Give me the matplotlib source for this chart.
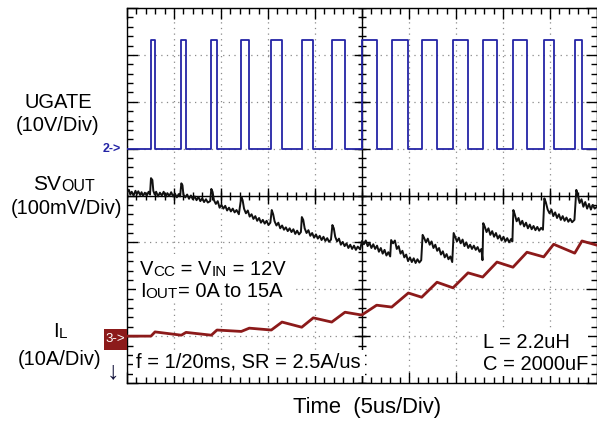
import matplotlib.pyplot as plt
from matplotlib.patches import Rectangle
import numpy as np

plt.rcParams['font.family'] = ['Liberation Sans', 'DejaVu Sans']

# scope screen: time in us (5us/div, 10 div), traces in divisions (8 div)
ugate_rise = [2.55, 5.78, 8.97, 12.16, 15.35, 18.59, 21.78, 24.97, 28.16, 31.35,
              34.68, 37.84, 41.06, 44.33, 47.63]
ugate_fall = [2.98, 6.28, 9.57, 13.01, 16.49, 19.82, 23.19, 26.56, 29.93, 32.98,
              36.28, 39.36, 42.55, 45.39, 48.40]
ugate_low = 5.0
ugate_high = 7.31

sv_t = [0.0, 0.2, 0.35, 0.5, 0.7, 0.9, 1.05, 1.2, 1.4, 1.55, 1.7, 1.9, 2.1, 2.3, 2.45,
        2.55, 2.7, 2.8, 2.95, 3.1, 3.3, 3.5, 3.7, 3.9, 4.1, 4.3, 4.5, 4.7, 4.9, 5.1, 5.3, 5.5, 5.65,
        5.78, 5.9, 6.0, 6.2, 6.4, 6.6, 6.8, 7.0, 7.2, 7.4, 7.6, 7.8, 8.0, 8.2, 8.4, 8.6, 8.85,
        8.97, 9.1, 9.25, 9.45, 9.65, 9.85, 10.05, 10.25, 10.45, 10.65, 10.85, 11.05, 11.25, 11.45, 11.65, 11.9,
        12.16, 12.3, 12.45, 12.65, 12.85, 13.05, 13.25, 13.45, 13.65, 13.85, 14.05, 14.25, 14.45, 14.65, 14.85, 15.05, 15.25,
        15.4, 15.55, 15.7, 15.9, 16.1, 16.3, 16.5, 16.7, 16.9, 17.1, 17.3, 17.5, 17.7, 17.9, 18.1, 18.3, 18.5,
        18.6, 18.75, 18.9, 19.1, 19.3, 19.5, 19.7, 19.9, 20.1, 20.3, 20.5, 20.7, 20.9, 21.1, 21.3, 21.5, 21.7,
        21.85, 22.0, 22.15, 22.35, 22.55, 22.75, 22.95, 23.15, 23.35, 23.55, 23.75, 23.95, 24.15, 24.35, 24.55, 24.8,
        25.0, 25.2, 25.4, 25.6, 25.8, 26.0, 26.2, 26.4, 26.6, 26.8, 27.0, 27.2, 27.4, 27.6, 27.8, 28.0,
        28.1, 28.3, 28.5, 28.7, 28.9, 29.1, 29.3, 29.5, 29.7, 29.9, 30.1, 30.3, 30.5, 30.7, 30.9, 31.1, 31.3,
        31.45, 31.6, 31.8, 32.0, 32.2, 32.4, 32.6, 32.8, 33.0, 33.2, 33.4, 33.6, 33.8, 34.0, 34.2, 34.4, 34.6,
        34.75, 34.9, 35.1, 35.3, 35.5, 35.7, 35.9, 36.1, 36.3, 36.5, 36.7, 36.9, 37.1, 37.3, 37.5, 37.7, 37.82,
        37.9, 38.05, 38.25, 38.45, 38.65, 38.85, 39.05, 39.25, 39.45, 39.65, 39.85, 40.05, 40.25, 40.45, 40.65, 40.85, 41.0,
        41.1, 41.25, 41.45, 41.65, 41.85, 42.05, 42.25, 42.45, 42.65, 42.85, 43.05, 43.25, 43.45, 43.65, 43.85, 44.05, 44.25,
        44.4, 44.55, 44.75, 44.95, 45.15, 45.35, 45.55, 45.75, 45.95, 46.15, 46.35, 46.55, 46.75, 46.95, 47.15, 47.35, 47.6,
        47.8, 47.95, 48.15, 48.35, 48.55, 48.75, 48.95, 49.15, 49.35, 49.55, 49.75, 50.0]
sv_v = [4.07, 4.12, 4.02, 4.08, 4.00, 4.10, 4.03, 4.09, 4.01, 4.07, 3.99, 4.06, 4.00, 4.08, 4.02,
        4.37, 4.33, 4.10, 4.02, 4.08, 3.98, 4.06, 4.00, 4.08, 3.97, 4.05, 3.99, 4.07, 3.98, 4.04, 3.96, 4.03, 3.98,
        4.26, 4.22, 4.02, 3.96, 4.02, 3.93, 4.00, 3.92, 3.98, 3.90, 3.97, 3.88, 3.94, 3.86, 3.92, 3.85, 3.88,
        4.14, 4.08, 3.90, 3.82, 3.88, 3.74, 3.80, 3.72, 3.78, 3.68, 3.74, 3.66, 3.72, 3.64, 3.69, 3.60,
        3.97, 3.90, 3.72, 3.62, 3.68, 3.55, 3.60, 3.50, 3.56, 3.46, 3.52, 3.42, 3.48, 3.40, 3.46, 3.37, 3.42,
        3.69, 3.60, 3.45, 3.36, 3.42, 3.30, 3.36, 3.27, 3.32, 3.24, 3.30, 3.22, 3.28, 3.18, 3.25, 3.17, 3.22,
        3.54, 3.48, 3.30, 3.20, 3.26, 3.14, 3.20, 3.10, 3.17, 3.08, 3.14, 3.05, 3.12, 3.03, 3.09, 3.01, 3.06,
        3.37, 3.30, 3.12, 3.02, 3.08, 2.95, 3.01, 2.92, 2.98, 2.88, 2.95, 2.86, 2.93, 2.84, 2.91, 2.85,
        3.03, 2.96, 3.04, 2.92, 2.99, 2.88, 2.96, 2.86, 2.93, 2.80, 2.88, 2.76, 2.84, 2.72, 2.79, 2.70,
        3.05, 2.98, 3.04, 2.86, 2.92, 2.76, 2.82, 2.68, 2.74, 2.60, 2.68, 2.58, 2.66, 2.56, 2.64, 2.57, 2.62,
        3.16, 3.10, 3.00, 3.08, 2.95, 3.02, 2.88, 2.95, 2.82, 2.88, 2.74, 2.81, 2.68, 2.75, 2.64, 2.70, 2.58,
        3.20, 3.12, 3.02, 3.10, 2.98, 3.06, 2.92, 3.00, 2.88, 2.95, 2.86, 2.93, 2.84, 2.90, 2.80, 2.86, 2.62,
        3.41, 3.34, 3.22, 3.30, 3.16, 3.24, 3.12, 3.20, 3.08, 3.15, 3.04, 3.12, 3.02, 3.09, 3.00, 3.07, 3.02,
        3.69, 3.60, 3.45, 3.52, 3.38, 3.46, 3.34, 3.42, 3.30, 3.38, 3.28, 3.35, 3.26, 3.33, 3.25, 3.31, 3.27,
        3.94, 3.86, 3.70, 3.62, 3.70, 3.56, 3.64, 3.52, 3.60, 3.48, 3.56, 3.46, 3.53, 3.44, 3.50, 3.43, 3.48,
        4.12, 4.02, 3.84, 3.92, 3.76, 3.86, 3.72, 3.82, 3.70, 3.80, 3.72, 3.76]

il_start = 1.00
il_valley = [1.00, 1.02, 1.02, 1.10, 1.13, 1.19, 1.30, 1.45, 1.62, 1.83,
             2.03, 2.26, 2.47, 2.69, 2.77]
il_peak = [1.09, 1.08, 1.13, 1.17, 1.30, 1.39, 1.51, 1.66, 1.92, 2.15,
           2.35, 2.58, 2.79, 2.96, 3.03]
il_end = 2.94

BLUE = '#2424a6'
RED = '#8c1a1a'

fig = plt.figure(figsize=(5.97, 4.26), dpi=100)
ax = fig.add_axes([127 / 597, 43 / 426, 470 / 597, 375 / 426])
ax.set_xlim(0, 50)
ax.set_ylim(0, 8)

# graticule
ax.set_xticks(np.arange(0, 51, 5))
ax.set_yticks(np.arange(0, 9, 1))
ax.set_xticks(np.arange(0, 50.01, 1), minor=True)
ax.set_yticks(np.arange(0, 8.01, 0.2), minor=True)
ax.tick_params(which='both', direction='in', top=True, right=True,
               labelbottom=False, labelleft=False, width=1, color='black')
ax.tick_params(which='major', length=8)
ax.tick_params(which='minor', length=4)
ax.grid(True, which='major', color='#8a8a8a', linestyle=(0, (1, 3.5)), lw=0.9)
for s in ax.spines.values():
    s.set_linewidth(1.0)

ax.axhline(4, color='black', lw=1.0, zorder=2)
ax.axvline(25, color='black', lw=1.0, zorder=2)
ax.plot(np.arange(0, 50.01, 1), np.full(51, 4.0), ls='', marker='|', ms=6, mew=1, color='black', zorder=2)
ax.plot(np.arange(0, 50.01, 5), np.full(11, 4.0), ls='', marker='|', ms=11, mew=1, color='black', zorder=2)
ax.plot(np.full(41, 25.0), np.arange(0, 8.01, 0.2), ls='', marker='_', ms=6, mew=1, color='black', zorder=2)
ax.plot(np.full(9, 25.0), np.arange(0, 8.01, 1), ls='', marker='_', ms=11, mew=1, color='black', zorder=2)

# UGATE square wave
ug_t = [0.0]
ug_v = [ugate_low]
for r, f in zip(ugate_rise, ugate_fall):
    ug_t += [r, r, f, f]
    ug_v += [ugate_low, ugate_high, ugate_high, ugate_low]
ug_t.append(50.0)
ug_v.append(ugate_low)
ax.plot(ug_t, ug_v, color=BLUE, lw=1.3, zorder=3)

# SVOUT
ax.plot(sv_t, sv_v, color='#111111', lw=1.4, zorder=3)

# IL
il_t = [0.0]
il_v = [il_start]
for r, f, lo, hi in zip(ugate_rise, ugate_fall, il_valley, il_peak):
    il_t += [r, f]
    il_v += [lo, hi]
il_t.append(50.0)
il_v.append(il_end)
ax.plot(il_t, il_v, color=RED, lw=2.0, zorder=3)


def px(x, y):
    return x / 597, 1 - y / 426


def rich(x, y, parts, color='black'):
    t = ax.text(*px(x, y), parts[0][0], fontsize=parts[0][1], color=color,
                transform=fig.transFigure, va='baseline', ha='left', zorder=11)
    prev = t
    for s, size in parts[1:]:
        prev = ax.annotate(s, xy=(1, 0), xycoords=prev, fontsize=size, color=color,
                           va='bottom', ha='left', zorder=11, annotation_clip=False)
    return t


# white backgrounds behind the annotations on the screen
for (x0, y0, x1, y1) in [(136, 254, 292, 301), (133, 350, 365, 376), (479, 329, 588, 376)]:
    ax.add_patch(Rectangle(px(x0, y1), (x1 - x0) / 597, (y1 - y0) / 426,
                           transform=fig.transFigure, facecolor='white',
                           edgecolor='none', zorder=10, clip_on=False))

BIG = 14.5
SMALL = 11

# left side labels
ax.text(*px(58, 108), 'UGATE', fontsize=BIG, ha='center', va='baseline',
        transform=fig.transFigure)
ax.text(*px(58, 131), '(10V/Div)', fontsize=BIG, ha='center', va='baseline',
        transform=fig.transFigure)
rich(33, 190, [('SV', 15), ('OUT', 11.5)])
ax.text(*px(66, 214), '(100mV/Div)', fontsize=BIG, ha='center', va='baseline',
        transform=fig.transFigure)
rich(53, 337, [('I', BIG), ('L', SMALL)])
ax.text(*px(60, 365), '(10A/Div)', fontsize=BIG, ha='center', va='baseline',
        transform=fig.transFigure)
ax.text(*px(113, 371), '\u2193', fontsize=18, ha='center', va='center',
        color='#14143c', fontweight='bold', transform=fig.transFigure)

# channel markers
ax.text(*px(112, 149), '2->', fontsize=9, ha='center', va='center', color=BLUE,
        fontweight='bold', transform=fig.transFigure)
ax.add_patch(Rectangle(px(104, 350), 23 / 597, 21 / 426, transform=fig.transFigure,
                       facecolor=RED, edgecolor='none', zorder=10, clip_on=False))
ax.text(*px(115, 339), '3->', fontsize=9.5, ha='center', va='center', color='white',
        transform=fig.transFigure, zorder=11)

# conditions
rich(140, 275, [('V', BIG), ('CC', SMALL), (' = V', BIG), ('IN', SMALL), (' = 12V', BIG)])
rich(140, 297, [('I', BIG), ('OUT', SMALL), ('= 0A to 15A', BIG)])
rich(136, 368, [('f = 1/20ms, SR = 2.5A/us', BIG)])
rich(483, 348, [('L = 2.2uH', BIG)])
rich(483, 370, [('C = 2000uF', BIG)])

ax.text(*px(293, 413), 'Time  (5us/Div)', fontsize=15.8, ha='left', va='baseline',
        transform=fig.transFigure)

fig.savefig('out.png', dpi=100)
